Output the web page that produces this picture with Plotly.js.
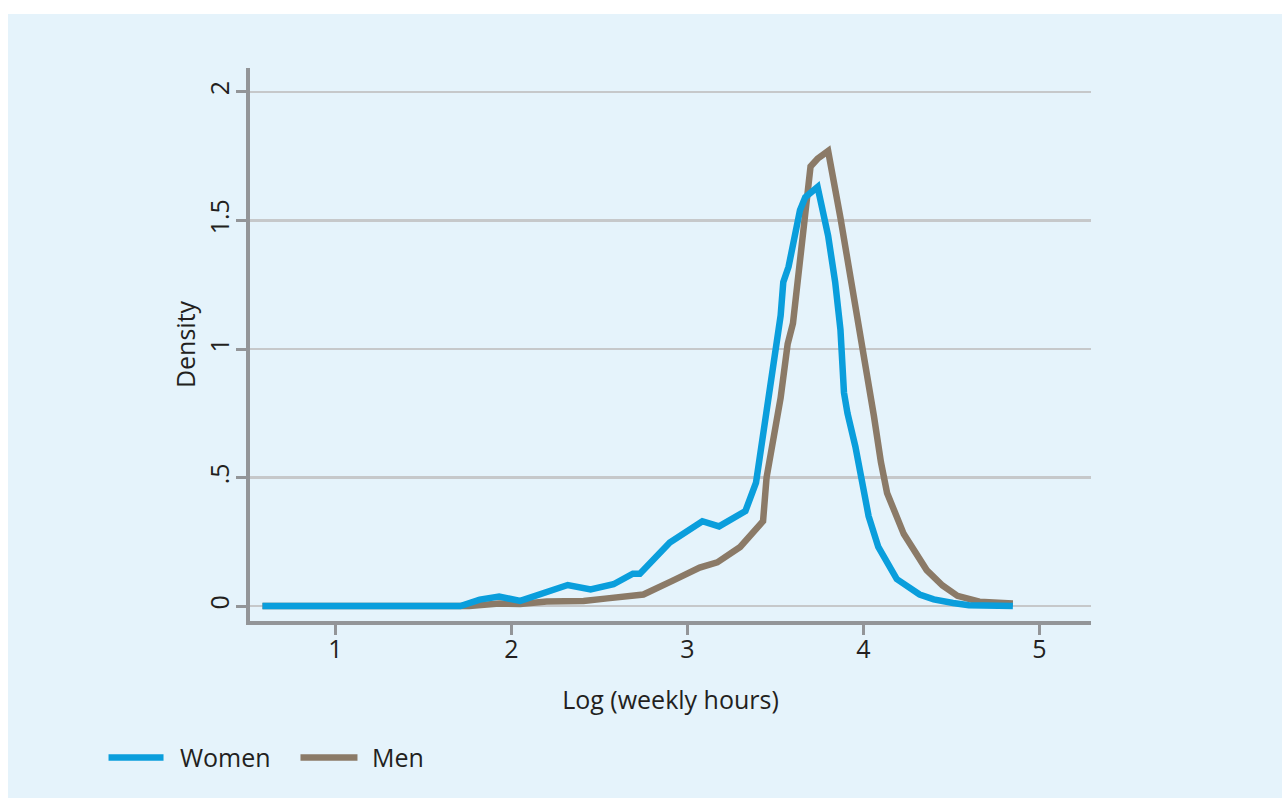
<!DOCTYPE html>
<html>
<head>
<meta charset="utf-8">
<script src="https://cdn.plot.ly/plotly-3.0.1.min.js"></script>
<style>
  html, body { margin: 0; padding: 0; background: #ffffff; width: 1282px; height: 798px; overflow: hidden; }
  #chart { position: absolute; left: 8px; top: 14px; width: 1274px; height: 784px; }
</style>
</head>
<body>
<div id="chart"></div>
<script>
// Log (weekly hours) grid and kernel density values
const womenX = [0.585, 1.0, 1.4, 1.71, 1.82, 1.93, 2.05, 2.32, 2.45, 2.58, 2.69, 2.73, 2.90, 3.085, 3.18, 3.33, 3.39, 3.48, 3.53, 3.545, 3.575, 3.64, 3.67, 3.74, 3.80, 3.84, 3.87, 3.89, 3.91, 3.955, 3.99, 4.03, 4.085, 4.19, 4.32, 4.40, 4.51, 4.60, 4.85];
const womenY = [0, 0, 0, 0, 0.025, 0.037, 0.02, 0.082, 0.065, 0.085, 0.126, 0.126, 0.247, 0.33, 0.31, 0.37, 0.48, 0.89, 1.13, 1.26, 1.32, 1.54, 1.59, 1.63, 1.44, 1.26, 1.075, 0.83, 0.75, 0.62, 0.50, 0.35, 0.23, 0.105, 0.045, 0.026, 0.012, 0.003, 0.0];

const menX = [0.585, 1.0, 1.4, 1.76, 1.93, 2.05, 2.20, 2.41, 2.545, 2.75, 2.92, 3.07, 3.17, 3.30, 3.43, 3.45, 3.53, 3.57, 3.60, 3.63, 3.66, 3.69, 3.70, 3.74, 3.80, 3.87, 3.94, 4.00, 4.06, 4.10, 4.135, 4.23, 4.36, 4.45, 4.535, 4.66, 4.85];
const menY = [0, 0, 0, 0, 0.01, 0.008, 0.018, 0.02, 0.03, 0.045, 0.10, 0.15, 0.17, 0.23, 0.33, 0.50, 0.81, 1.02, 1.10, 1.27, 1.44, 1.66, 1.71, 1.74, 1.77, 1.51, 1.23, 1.01, 0.74, 0.56, 0.44, 0.28, 0.14, 0.08, 0.04, 0.017, 0.01];

const seriesNames = ["Women", "Men"];
const seriesColors = ["#0a9edc", "#8b7a67"];
const xTickVals = [1, 2, 3, 4, 5];
const xTickText = ["1", "2", "3", "4", "5"];
const yTickVals = [0, 0.5, 1, 1.5, 2];
const yTickText = ["0", ".5", "1", "1.5", "2"];

const FONT = "Open Sans, Noto Sans, sans-serif";
const TXT = "#231f20";
const FS = 25;

const traces = [
  { x: menX, y: menY, type: "scatter", mode: "lines", name: seriesNames[1],
    line: { color: seriesColors[1], width: 6.5 }, showlegend: false, hoverinfo: "skip" },
  { x: womenX, y: womenY, type: "scatter", mode: "lines", name: seriesNames[0],
    line: { color: seriesColors[0], width: 6.5 }, showlegend: false, hoverinfo: "skip" }
];

// layout geometry (div is placed at 8,14 on the page)
const W = 1274, H = 784;
const M = { l: 241.5, r: 191.3, t: 54, b: 176.5 };
const PW = W - M.l - M.r, PH = H - M.t - M.b;
// convert page pixel positions to paper coordinates
function px(xPage) { return (xPage - 8 - M.l) / PW; }
function py(yPage) { return (H - M.b - (yPage - 14)) / PH; }

const legY = 758;
const legend = [
  { x0: 108, x1: 163, text: seriesNames[0], tx: 177, color: seriesColors[0] },
  { x0: 300, x1: 357, text: seriesNames[1], tx: 370, color: seriesColors[1] }
];
const shapes = legend.map(l => ({
  type: "line", xref: "paper", yref: "paper",
  x0: px(l.x0), x1: px(l.x1), y0: py(legY), y1: py(legY),
  line: { color: l.color, width: 6.5 }
}));
const annotations = legend.map(l => ({
  xref: "paper", yref: "paper", x: px(l.tx), y: py(legY),
  xanchor: "left", yanchor: "middle", showarrow: false, text: l.text,
  font: { family: FONT, size: FS, color: TXT }
}));

const layout = {
  width: W, height: H,
  paper_bgcolor: "#e5f3fb", plot_bgcolor: "#e5f3fb",
  margin: { l: M.l, r: M.r, t: M.t, b: M.b, pad: 0 },
  showlegend: false,
  font: { family: FONT, size: FS, color: TXT },
  xaxis: {
    range: [0.514, 5.294], tickvals: xTickVals, ticktext: xTickText,
    showgrid: false, zeroline: false, showline: true, linecolor: "#939598", linewidth: 4,
    ticks: "outside", ticklen: 10, tickwidth: 3, tickcolor: "#939598", ticklabelstandoff: -7,
    tickfont: { family: FONT, size: FS, color: TXT },
    title: { text: "Log (weekly hours)", font: { family: FONT, size: FS, color: TXT }, standoff: 28 }
  },
  yaxis: {
    range: [-0.058, 2.093], tickvals: yTickVals, ticktext: yTickText, tickangle: -90,
    showgrid: true, gridcolor: "#c6c8ca", gridwidth: 2.5,
    zeroline: false, showline: true, linecolor: "#939598", linewidth: 4,
    ticks: "outside", ticklen: 10, tickwidth: 3, tickcolor: "#939598", ticklabelstandoff: -3,
    tickfont: { family: FONT, size: FS, color: TXT },
    title: { text: "Density", font: { family: FONT, size: FS, color: TXT }, standoff: 0 }
  },
  shapes: shapes,
  annotations: annotations
};

Plotly.newPlot("chart", traces, layout, { displayModeBar: false, staticPlot: true });
</script>
</body>
</html>
